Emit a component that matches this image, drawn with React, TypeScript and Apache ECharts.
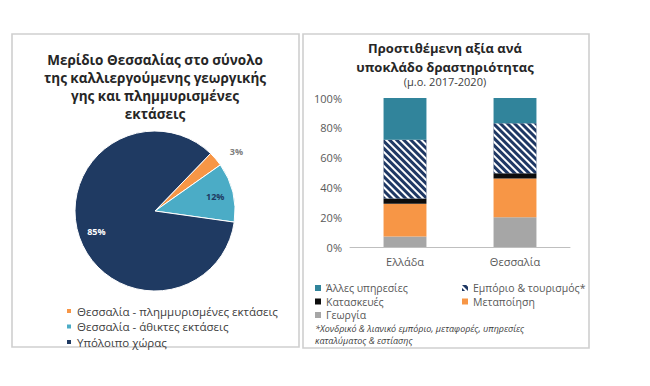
import React, { useEffect, useRef } from "react";
import * as echarts from "echarts";

// ---- Pie data ----
const pieNames = [
  "Θεσσαλία - πλημμυρισμένες εκτάσεις",
  "Θεσσαλία - άθικτες εκτάσεις",
  "Υπόλοιπο χώρας",
];
const pieValues = [3, 12, 85];
const pieColors = ["#F79646", "#4BACC6", "#1F3A62"];
const pieLabelColors = ["#7F7F7F", "#1F3A62", "#FFFFFF"];
const pieTitleLines = [
  "Μερίδιο Θεσσαλίας στο σύνολο",
  "της καλλιεργούμενης γεωργικής",
  "γης και πλημμυρισμένες",
  "εκτάσεις",
];

// ---- Bar data ----
const barCategories = ["Ελλάδα", "Θεσσαλία"];
const agriculture = [7, 20];
const manufacturing = [22, 26];
const construction = [3.5, 3.5];
const tradeTourism = [39.5, 33.5];
const otherServices = [28, 17];
const barSeriesNames = [
  "Γεωργία",
  "Μεταποίηση",
  "Κατασκευές",
  "Εμπόριο & τουρισμός*",
  "Άλλες υπηρεσίες",
];
const barColors = ["#A6A6A6", "#F79646", "#0D0D0D", "#1F3864", "#31849B"];
const barTitleLines = ["Προστιθέμενη αξία ανά", "υποκλάδο δραστηριότητας"];
const barSubtitle = "(μ.ο. 2017-2020)";
const footnoteLines = [
  "*Χονδρικό & λιανικό εμπόριο, μεταφορές, υπηρεσίες",
  "καταλύματος & εστίασης",
];

const FONT = "'Open Sans', 'Noto Sans', sans-serif";

export default function App() {
  const ref = useRef<HTMLDivElement>(null);

  useEffect(() => {
    if (!ref.current) return;
    const chart = echarts.init(ref.current, undefined, { renderer: "svg" });

    const barData = [agriculture, manufacturing, construction, tradeTourism, otherServices];

    const barSeries = barData.map((vals, i) => ({
      type: "bar",
      name: barSeriesNames[i],
      stack: "total",
      xAxisIndex: 0,
      yAxisIndex: 0,
      barWidth: "39%",
      data: vals,
      itemStyle: {
        color: barColors[i],
        ...(i === 3
          ? {
              decal: {
                symbol: "rect",
                symbolSize: 1,
                dashArrayX: [1, 0],
                dashArrayY: [2, 2.3],
                rotation: Math.PI / 4,
                color: "#FFFFFF",
              },
            }
          : {}),
      },
    }));

    const option: any = {
      animation: false,
      backgroundColor: "#FFFFFF",
      textStyle: { fontFamily: FONT },
      graphic: [
        {
          type: "rect",
          shape: { x: 12, y: 34, width: 287, height: 313 },
          style: { fill: "none", stroke: "#CFCFCF", lineWidth: 1.6 },
          silent: true,
        },
        {
          type: "rect",
          shape: { x: 303, y: 34, width: 286, height: 314 },
          style: { fill: "none", stroke: "#CFCFCF", lineWidth: 1.6 },
          silent: true,
        },
        {
          type: "text",
          x: 155,
          y: 51,
          style: {
            text: pieTitleLines.join("\n"),
            fontFamily: FONT,
            fontSize: 13.5,
            fontWeight: "bold",
            fill: "#262626",
            align: "center",
            verticalAlign: "top",
            lineHeight: 18,
          },
        },
        {
          type: "text",
          x: 445,
          y: 38,
          style: {
            text: barTitleLines.join("\n"),
            fontFamily: FONT,
            fontSize: 13,
            fontWeight: "bold",
            fill: "#262626",
            align: "center",
            verticalAlign: "top",
            lineHeight: 19,
          },
        },
        {
          type: "text",
          x: 445,
          y: 76,
          style: {
            text: barSubtitle,
            fontFamily: FONT,
            fontSize: 11,
            fill: "#404040",
            align: "center",
            verticalAlign: "top",
          },
        },
        {
          type: "text",
          x: 315,
          y: 322,
          style: {
            text: footnoteLines.join("\n"),
            fontFamily: FONT,
            fontSize: 9,
            fontStyle: "italic",
            fill: "#404040",
            align: "left",
            verticalAlign: "top",
            lineHeight: 12.5,
          },
        },
      ],
      legend: [
        {
          data: pieNames,
          orient: "vertical",
          left: 60,
          top: 300,
          icon: "rect",
          itemWidth: 6,
          itemHeight: 6,
          itemGap: 3.5,
          selectedMode: false,
          textStyle: { fontFamily: FONT, fontSize: 11.5, color: "#404040", lineHeight: 12 },
        },
        {
          data: [barSeriesNames[4], barSeriesNames[2], barSeriesNames[0]],
          orient: "vertical",
          left: 310,
          top: 277,
          icon: "rect",
          itemWidth: 6,
          itemHeight: 6,
          itemGap: 1.5,
          selectedMode: false,
          textStyle: { fontFamily: FONT, fontSize: 10.5, color: "#595959", lineHeight: 12 },
        },
        {
          data: [barSeriesNames[3], barSeriesNames[1]],
          orient: "vertical",
          left: 457,
          top: 277,
          icon: "rect",
          itemWidth: 6,
          itemHeight: 6,
          itemGap: 1.5,
          selectedMode: false,
          textStyle: { fontFamily: FONT, fontSize: 10.5, color: "#595959", lineHeight: 12 },
        },
      ],
      grid: [{ left: 350, right: 80, top: 98, bottom: 139, containLabel: false }],
      xAxis: [
        {
          type: "category",
          gridIndex: 0,
          data: barCategories,
          axisLine: { show: true, lineStyle: { color: "#BFBFBF", width: 1 } },
          axisTick: { show: false },
          axisLabel: { color: "#595959", fontSize: 11, margin: 9, fontFamily: FONT },
        },
      ],
      yAxis: [
        {
          type: "value",
          gridIndex: 0,
          min: 0,
          max: 100,
          interval: 20,
          axisLine: { show: false },
          axisTick: { show: false },
          splitLine: { show: false },
          axisLabel: {
            color: "#595959",
            fontSize: 11,
            margin: 8,
            fontFamily: FONT,
            formatter: "{value}%",
          },
        },
      ],
      series: [
        {
          type: "pie",
          name: "pie",
          center: [155, 211],
          radius: [0, 80],
          startAngle: 46,
          clockwise: true,
          silent: true,
          itemStyle: { borderColor: "#FFFFFF", borderWidth: 1 },
          label: { show: false },
          labelLine: { show: false },
          data: pieNames.map((n, i) => ({
            name: n,
            value: pieValues[i],
            itemStyle: { color: pieColors[i] },
            label:
              i === 0
                ? {
                    show: true,
                    position: "outside",
                    formatter: "{c}%",
                    color: pieLabelColors[i],
                    fontSize: 9,
                    fontWeight: "bold",
                    fontFamily: FONT,
                  }
                : { show: false },
            labelLine: { show: false, length: 12, length2: 0 },
          })),
        },
        {
          type: "pie",
          name: "pieLabels",
          center: [155, 211],
          radius: [0, 118],
          startAngle: 46,
          clockwise: true,
          silent: true,
          legendHoverLink: false,
          itemStyle: { color: "rgba(0,0,0,0)" },
          labelLine: { show: false },
          data: pieNames.map((n, i) => ({
            name: n,
            value: pieValues[i],
            itemStyle: { color: "rgba(0,0,0,0)" },
            label: {
              show: i !== 0,
              position: "inside",
              formatter: "{c}%",
              color: pieLabelColors[i],
              fontSize: 9,
              fontWeight: "bold",
              fontFamily: FONT,
            },
          })),
        },
        ...barSeries,
      ],
    };

    chart.setOption(option);
    return () => chart.dispose();
  }, []);

  return (
    <div
      ref={ref}
      style={{ position: "fixed", left: 0, top: 0, width: 650, height: 386, background: "#fff" }}
    />
  );
}
